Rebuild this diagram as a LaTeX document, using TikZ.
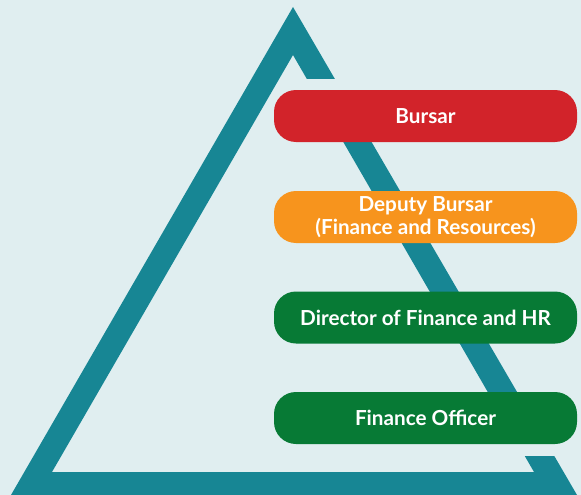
\documentclass[tikz,border=0pt]{standalone}
\usepackage{fontspec}
\setmainfont{Lato}[BoldFont={Lato Bold}]
\definecolor{bgc}{HTML}{E0EEF0}
\definecolor{tealc}{HTML}{178694}
\definecolor{redc}{HTML}{D2232A}
\definecolor{orangec}{HTML}{F7941D}
\definecolor{greenc}{HTML}{077A35}
\tikzset{
  pbox/.style={rectangle, rounded corners=22pt, minimum width=303pt, minimum height=52pt,
    inner sep=0pt, text=white, font=\bfseries\fontsize{20.7}{23}\selectfont, align=center},
  cover/.style={fill=bgc, draw=none}
}
\begin{document}
\begin{tikzpicture}[x=1pt,y=-1pt]
\useasboundingbox (0,0) rectangle (581,495);
\fill[bgc] (0,0) rectangle (581,495);
% triangle band
\fill[tealc, even odd rule] (293,7) -- (11,495) -- (577,495) -- cycle
  (293,55) -- (52,472) -- (534,472) -- cycle;
% gaps above first and below last box
\fill[cover] (295,79) rectangle (581,91);
\fill[cover] (400,443) rectangle (581,456);
% boxes
\node[pbox, fill=redc] (bursar) at (425.5,116) {Bursar};
\node[pbox, fill=orangec] (deputy) at (425.5,217) {Deputy Bursar\\(Finance and Resources)};
\node[pbox, fill=greenc] (director) at (425.5,317.5) {Director of Finance and HR};
\node[pbox, fill=greenc] (officer) at (425.5,418) {Finance Officer};
\end{tikzpicture}
\end{document}
